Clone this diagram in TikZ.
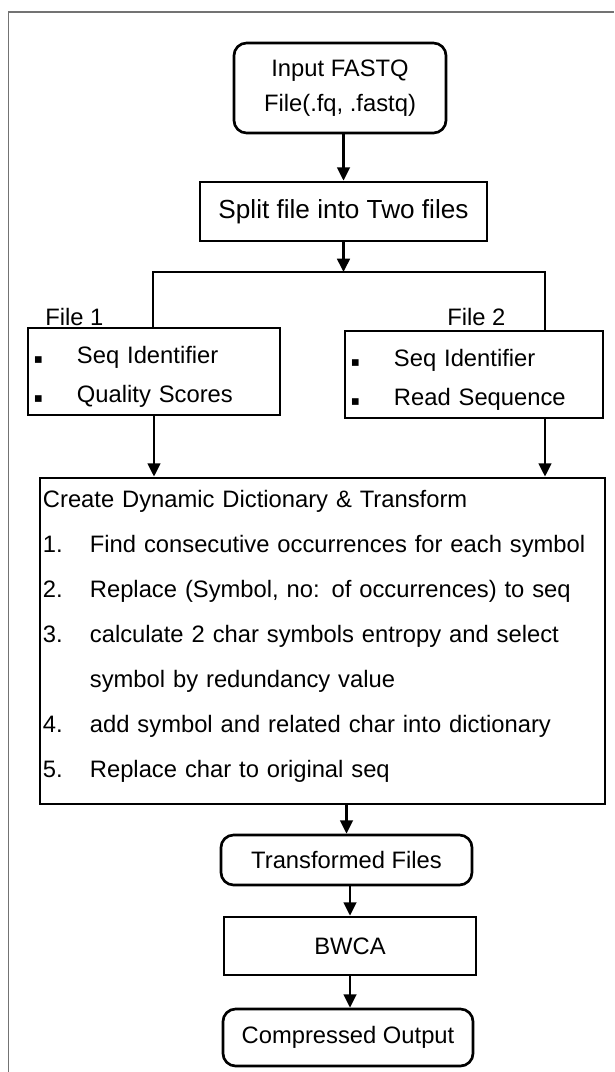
\documentclass[tikz,border=0pt]{standalone}
\usepackage{fontspec}
\setmainfont{Liberation Sans}
\newfontfamily\symfont{DejaVu Sans}
\usepackage{tikz}
\usetikzlibrary{arrows.meta,calc}
\newlength\px
\setlength\px{0.025cm}
\newcommand{\fs}{\fontsize{16.9pt}{24.9pt}\selectfont}
\newcommand{\fsbig}{\fontsize{18.6pt}{24.9pt}\selectfont}
\newcommand{\fsfile}{\fontsize{16.9pt}{27.7pt}\selectfont}
\newcommand{\fsdict}{\fontsize{16.9pt}{32pt}\selectfont}
\newcommand{\bul}[1]{\makebox[43\px][l]{\symfont\fontsize{9.5pt}{9.5pt}\selectfont ▪}#1}
\newcommand{\itemno}[1]{\makebox[47\px][l]{#1}}
\tikzset{
  box/.style={draw, line width=1.9pt, inner sep=0pt},
  rbox/.style={box, rounded corners=9pt},
  flow/.style={line width=1.9pt, -{Triangle[length=9.5pt,width=9pt]}},
  link/.style={line width=1.9pt},
  lbl/.style={anchor=base west, inner sep=0pt, font=\fs}
}

\begin{document}
\begin{tikzpicture}[x=0.025cm, y=-0.025cm]
	%%%%% START %%%%%
	\useasboundingbox (0,0) rectangle (614,1072);
	\draw[line width=0.9pt, color=black!55] (8.6,1072) -- (8.6,12) -- (614,12);
	
	\node[rbox, minimum width=5.3cm, minimum height=2.25cm, align=center, font=\fs] (inp) at (340,88) {Input FASTQ\\File(.fq, .fastq)};
	\node[box, minimum width=7.175cm, minimum height=1.475cm, font=\fsbig] (split) at (343.5,211.5) {Split file into Two files};
	
	\coordinate (tl) at (153,272);
	\coordinate (tr) at (545,272);
	
	\node[lbl] (lone) at (45,325) {File 1};
	\node[lbl] (ltwo) at (447,325) {File 2};
	\node[box, minimum width=6.3cm, minimum height=2.175cm, text width=6cm, inner xsep=0.15cm, text height=20.5pt, align=left, font=\fsfile] (fone) at (154,371.5) {\bul{Seq Identifier}\\\bul{Quality Scores}};
	\node[box, minimum width=6.45cm, minimum height=2.175cm, text width=6.15cm, inner xsep=0.15cm, text height=20.5pt, align=left, font=\fsfile] (ftwo) at (474,374.5) {\bul{Seq Identifier}\\\bul{Read Sequence}};
	
	\node[box, minimum width=14.125cm, minimum height=8.15cm, text width=13.975cm, inner xsep=0.075cm, text height=5pt, align=left, font=\fsdict] (dict) at (322.5,641) {Create Dynamic Dictionary \& Transform\\
		\itemno{1.}Find consecutive occurrences for each symbol\\
		\itemno{2.}Replace (Symbol, no: of occurrences) to seq\\
		\itemno{3.}calculate 2 char symbols entropy and select\\
		\itemno{}symbol by redundancy value\\
		\itemno{4.}add symbol and related char into dictionary\\
		\itemno{5.}Replace char to original seq};
	
	\node[rbox, minimum width=6.275cm, minimum height=1.25cm, font=\fs] (trans) at (346.5,860) {Transformed Files};
	\node[box, minimum width=6.3cm, minimum height=1.45cm, font=\fs] (bwca) at (350,946) {BWCA};
	\node[rbox, minimum width=6.25cm, minimum height=1.425cm, font=\fs] (comp) at (348,1037.5) {Compressed Output};
	
	% arrows
	\draw[flow] (inp.south -| split) -- (split.north);
	\draw[flow] (split.south) -- (split.south |- tl);
	\draw[link] (fone.north -| tl) -- (tl) -- (tr) -- (ftwo.north -| tr);
	\draw[flow] (fone.south) -- (fone.south |- dict.north);
	\draw[flow] (ftwo.south -| tr) -- (dict.north -| tr);
	\draw[flow] (dict.south -| trans) -- (trans.north);
	\draw[flow] (trans.south -| bwca) -- (bwca.north);
	\draw[flow] (bwca.south) -- (bwca.south |- comp.north);
	%%%%% END %%%%%
\end{tikzpicture}
\end{document}
